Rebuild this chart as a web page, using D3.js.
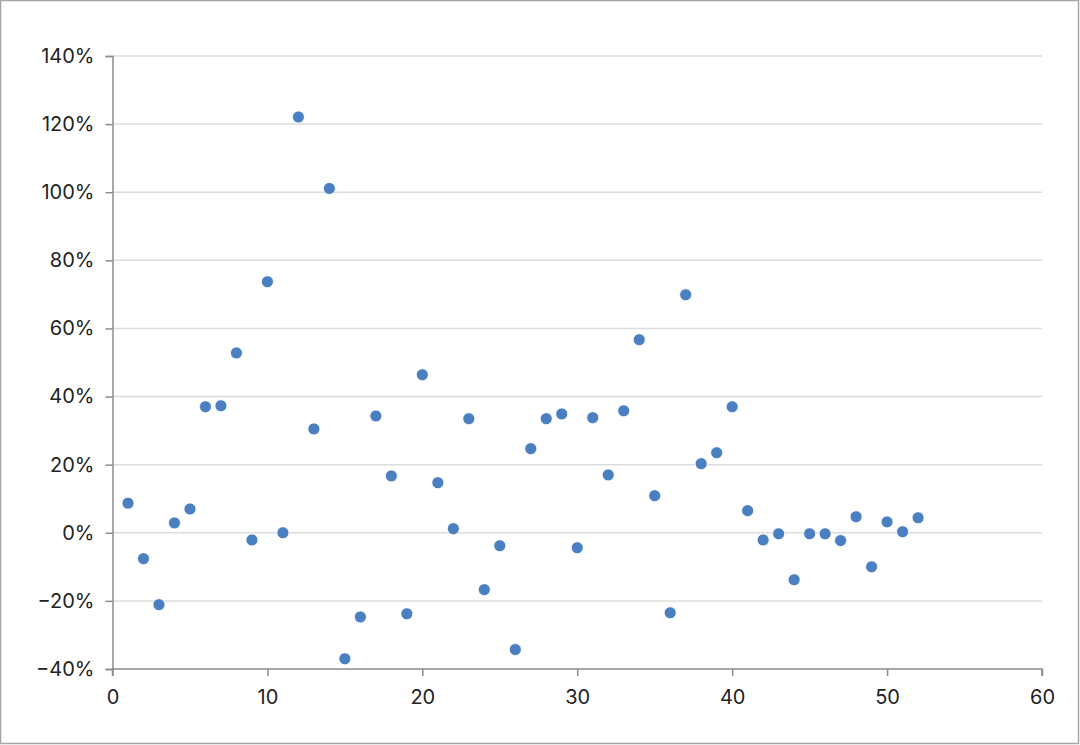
<!DOCTYPE html>
<html><head><meta charset="utf-8">
<script src="https://cdn.jsdelivr.net/npm/d3@7"></script>
<style>
html,body{margin:0;padding:0;background:#fff;}
svg{display:block;}
text{font-family:Inter,"Noto Sans",sans-serif;}
</style></head>
<body><svg id="c" width="1080" height="745"></svg>
<script>
const xValues = [1,2,3,4,5,6,7,8,9,10,11,12,13,14,15,16,17,18,19,20,21,22,23,24,25,26,27,28,29,30,31,32,33,34,35,36,37,38,39,40,41,42,43,44,45,46,47,48,49,50,51,52];
const yValues = [8.7,-7.6,-21.1,2.9,7.0,37.0,37.3,52.8,-2.1,73.7,0.0,122.1,30.5,101.1,-37.0,-24.7,34.3,16.7,-23.8,46.4,14.7,1.2,33.5,-16.7,-3.8,-34.3,24.7,33.5,34.9,-4.4,33.8,17.0,35.8,56.7,10.9,-23.5,69.9,20.3,23.5,37.0,6.5,-2.1,-0.3,-13.8,-0.3,-0.3,-2.3,4.7,-10.0,3.2,0.3,4.4];
const xTicks = [0,10,20,30,40,50,60];
const yTicks = [-40,-20,0,20,40,60,80,100,120,140];

const svg = d3.select("#c");
svg.append("rect").attr("x",0.5).attr("y",0.5).attr("width",1078).attr("height",743)
  .attr("fill","#fff").attr("stroke","#a6a6a6").attr("stroke-width",1.5);

const x = d3.scaleLinear().domain([0,60]).range([112.5,1042]);
const y = d3.scaleLinear().domain([-40,140]).range([669,56]);

// gridlines
svg.append("g").selectAll("line").data(yTicks.filter(d=>d!==-40)).join("line")
  .attr("x1",x(0)).attr("x2",x(60)).attr("y1",d=>y(d)).attr("y2",d=>y(d))
  .attr("stroke","#dcdcdc").attr("stroke-width",1.5);

const fmt = d => (d<0?"\u2212"+Math.abs(d):d)+"%";

const yAxis = svg.append("g").attr("transform",`translate(${x(0)},0)`)
  .call(d3.axisLeft(y).tickValues(yTicks).tickSize(7).tickPadding(11).tickFormat(fmt));
const xAxis = svg.append("g").attr("transform",`translate(0,${y(-40)})`)
  .call(d3.axisBottom(x).tickValues(xTicks).tickSize(7).tickPadding(14));
[yAxis,xAxis].forEach(a=>{
  a.select(".domain").attr("stroke","#8c8c8c").attr("stroke-width",1.5);
  a.selectAll(".tick line").attr("stroke","#8c8c8c").attr("stroke-width",1.5);
  a.selectAll(".tick text").attr("fill","#222").style("font-size","20px").style("font-family","Inter, 'Noto Sans', sans-serif");
});
xAxis.select(".domain").attr("d",`M${x(0)},7V0H${x(60)}V7`);

svg.append("g").selectAll("circle").data(xValues.map((d,i)=>[d,yValues[i]])).join("circle")
  .attr("cx",d=>x(d[0])).attr("cy",d=>y(d[1])).attr("r",6)
  .attr("fill","#4a7fc1").attr("stroke","#fff").attr("stroke-width",0.8);
</script></body></html>
